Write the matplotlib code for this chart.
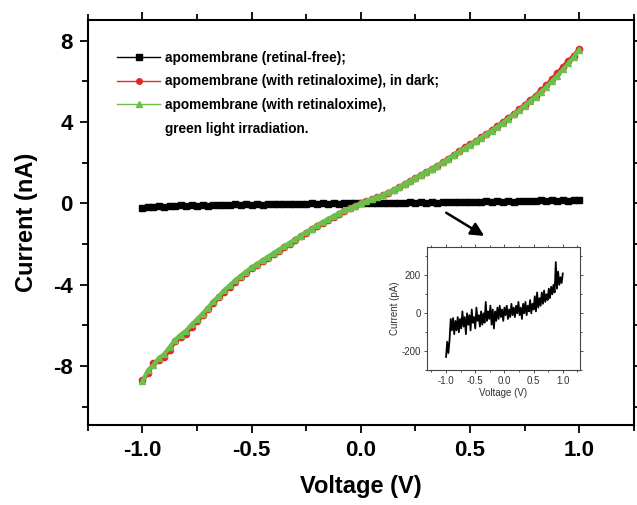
import matplotlib
matplotlib.use("Agg")
import matplotlib.pyplot as plt
from matplotlib.lines import Line2D
from matplotlib.ticker import MultipleLocator
import numpy as np

plt.rcParams["font.family"] = ["Liberation Sans", "DejaVu Sans"]
plt.rcParams["axes.unicode_minus"] = False

# %% data
voltage = np.linspace(-1.0, 1.0, 81)

retinal_free = [
    -0.22, -0.18, -0.20, -0.14, -0.17, -0.12, -0.15, -0.10, -0.13, -0.09,
    -0.12, -0.08, -0.11, -0.07, -0.10, -0.06, -0.09, -0.05, -0.08, -0.05,
    -0.07, -0.04, -0.06, -0.03, -0.05, -0.02, -0.05, -0.01, -0.04, -0.02,
    -0.03, 0.00, -0.02, 0.01, -0.02, 0.01, -0.01, 0.02, 0.00, 0.02,
    0.00, 0.03, 0.01, 0.03, 0.01, 0.04, 0.02, 0.04, 0.02, 0.05,
    0.03, 0.06, 0.03, 0.06, 0.04, 0.07, 0.05, 0.08, 0.05, 0.08,
    0.06, 0.09, 0.07, 0.10, 0.07, 0.11, 0.08, 0.12, 0.09, 0.12,
    0.10, 0.14, 0.11, 0.15, 0.12, 0.18, 0.13, 0.16, 0.14, 0.17,
    0.18,
]

in_dark = [
    -8.70, -8.35, -7.85, -7.70, -7.55, -7.20, -6.75, -6.55, -6.40, -6.05,
    -5.80, -5.50, -5.20, -4.90, -4.62, -4.35, -4.10, -3.85, -3.62, -3.40,
    -3.20, -3.02, -2.85, -2.68, -2.50, -2.32, -2.15, -1.98, -1.80, -1.62,
    -1.45, -1.27, -1.10, -0.95, -0.80, -0.65, -0.50, -0.37, -0.25, -0.12,
    0.00, 0.10, 0.20, 0.30, 0.40, 0.52, 0.65, 0.80, 0.95, 1.10,
    1.25, 1.40, 1.55, 1.70, 1.85, 2.02, 2.20, 2.38, 2.58, 2.75,
    2.92, 3.05, 3.25, 3.42, 3.60, 3.80, 4.00, 4.20, 4.40, 4.62,
    4.85, 5.07, 5.30, 5.55, 5.80, 6.10, 6.40, 6.70, 7.00, 7.25,
    7.60,
]

green_light = [
    -8.75, -8.20, -7.95, -7.60, -7.40, -7.05, -6.70, -6.45, -6.25, -5.95,
    -5.70, -5.42, -5.12, -4.82, -4.55, -4.28, -4.02, -3.78, -3.56, -3.35,
    -3.15, -2.97, -2.80, -2.62, -2.45, -2.27, -2.10, -1.93, -1.76, -1.58,
    -1.41, -1.24, -1.07, -0.92, -0.77, -0.62, -0.48, -0.35, -0.23, -0.11,
    0.00, 0.11, 0.21, 0.31, 0.42, 0.54, 0.67, 0.81, 0.96, 1.11,
    1.26, 1.41, 1.56, 1.71, 1.86, 2.03, 2.20, 2.37, 2.55, 2.72,
    2.88, 3.05, 3.23, 3.41, 3.58, 3.77, 3.97, 4.17, 4.37, 4.58,
    4.80, 5.02, 5.25, 5.48, 5.73, 6.00, 6.28, 6.58, 6.88, 7.18,
    7.55,
]

inset_voltage = np.linspace(-1.0, 1.0, 101)
inset_current = [
    -230, -150, -210, -140, -30, -90, -25, -110, -40, -90,
    -20, -100, -30, -80, 10, -70, -20, -110, 0, -60,
    -10, -90, 20, -50, -20, -80, 30, -40, -10, -70,
    10, -60, 0, -50, 60, -40, 10, -30, 40, -60,
    20, -80, 10, -40, 30, -30, 40, -20, 20, -40,
    30, -10, 40, -30, 20, -20, 50, -10, 30, -20,
    40, 0, 60, -10, 30, -30, 50, 0, 60, -10,
    40, 10, 70, 0, 50, 20, 90, 10, 110, 30,
    80, 40, 110, 50, 120, 60, 100, 70, 130, 80,
    140, 100, 150, 110, 270, 130, 220, 150, 190, 160,
    210,
]

labels = [
    "apomembrane (retinal-free);",
    "apomembrane (with retinaloxime), in dark;",
    "apomembrane (with retinaloxime),",
    "green light irradiation.",
]

# %% main plot
fig = plt.figure(figsize=(6.37, 5.05), dpi=100)
ax = fig.add_axes([0.138, 0.158, 0.857, 0.802])

ax.plot(voltage, retinal_free, color="black", marker="s", ms=4.5, lw=3.2, label=labels[0])
ax.plot(voltage, in_dark, color="#e3262b", marker="o", ms=4.5, lw=3, label=labels[1])
ax.plot(voltage, green_light, color="#6cbf4a", marker="^", ms=4.5, lw=3, label=labels[2])

ax.set_xlim(-1.25, 1.25)
ax.set_ylim(-10.9, 9.0)
ax.xaxis.set_major_locator(MultipleLocator(0.5))
ax.xaxis.set_minor_locator(MultipleLocator(0.25))
ax.yaxis.set_major_locator(MultipleLocator(4))
ax.yaxis.set_minor_locator(MultipleLocator(2))
ax.tick_params(which="both", direction="out", top=True, right=True, width=1.3)
ax.tick_params(which="major", length=6, labelsize=16, pad=5)
ax.tick_params(which="minor", length=4)
for lab in ax.get_xticklabels() + ax.get_yticklabels():
    lab.set_fontweight("bold")
for sp in ax.spines.values():
    sp.set_linewidth(1.5)

ax.set_xlabel("Voltage (V)", fontsize=17, fontweight="bold", labelpad=10)
ax.set_ylabel("Current (nA)", fontsize=17, fontweight="bold", labelpad=11)

handles, _ = ax.get_legend_handles_labels()
handles.append(Line2D([], [], color="none"))
leg = ax.legend(handles, labels, loc="upper left", bbox_to_anchor=(0.053, 0.925),
                frameon=False, borderpad=0, borderaxespad=0,
                handlelength=3.2, handletextpad=0.35, labelspacing=0.72,
                prop={"weight": "bold", "size": 9.8})
for h in leg.legend_handles:
    h.set_linewidth(1.0)
    h.set_markersize(4)

ax.annotate("", xy=(0.576, -1.67), xytext=(0.38, -0.39),
            arrowprops=dict(arrowstyle="-|>", color="black", lw=1.8,
                            mutation_scale=20))

# %% inset
ins = fig.add_axes([0.670, 0.267, 0.241, 0.244])
ins.plot(inset_voltage, inset_current, color="black", lw=1.3)
ins.set_xlim(-1.33, 1.3)
ins.set_ylim(-300, 350)
ins.xaxis.set_major_locator(MultipleLocator(0.5))
ins.xaxis.set_minor_locator(MultipleLocator(0.25))
ins.yaxis.set_major_locator(MultipleLocator(200))
ins.yaxis.set_minor_locator(MultipleLocator(100))
ins.tick_params(which="both", direction="out", top=True, right=True,
                labelsize=7, colors="#333333", width=0.6, pad=2)
ins.tick_params(which="major", length=2.5)
ins.tick_params(which="minor", length=1.5)
for sp in ins.spines.values():
    sp.set_linewidth(0.8)
    sp.set_color("#444444")
ins.set_xlabel("Voltage (V)", fontsize=7, labelpad=1, color="#333333")
ins.set_ylabel("Current (pA)", fontsize=7, labelpad=1, color="#333333")

fig.savefig("out.png", dpi=100)
